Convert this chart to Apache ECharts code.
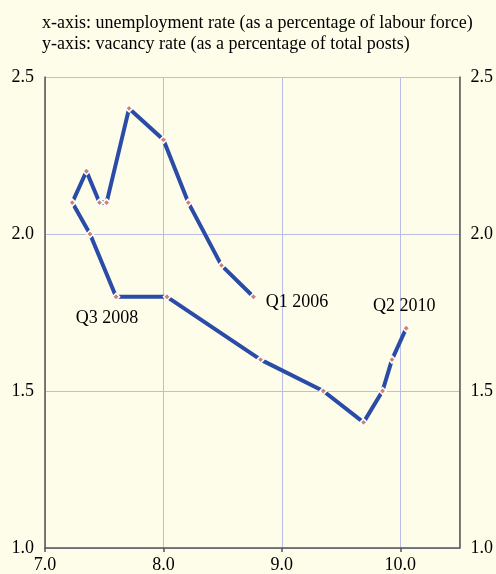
<!DOCTYPE html>
<html>
<head>
<meta charset="utf-8">
<script src="https://cdn.jsdelivr.net/npm/echarts@6/dist/echarts.min.js"></script>
<style>
  html, body { margin: 0; padding: 0; background: #fefde9; }
  #main { width: 496px; height: 574px; }
</style>
</head>
<body>
<div id="main"></div>
<script>
// quarterly points, Q1 2006 .. Q2 2010
var unemployment = [8.76, 8.49, 8.21, 8.0, 7.71, 7.52, 7.46, 7.35, 7.23, 7.38, 7.60, 8.03, 8.82, 9.35, 9.69, 9.85, 9.93, 10.05];
var vacancy = [1.8, 1.9, 2.1, 2.3, 2.4, 2.1, 2.1, 2.2, 2.1, 2.0, 1.8, 1.8, 1.6, 1.5, 1.4, 1.5, 1.6, 1.7];
var pointLabels = { 0: 'Q1 2006', 10: 'Q3 2008', 17: 'Q2 2010' };
var headerLines = [
  'x-axis: unemployment rate (as a percentage of labour force)',
  'y-axis: vacancy rate (as a percentage of total posts)'
];
var xTicks = [7, 8, 9, 10];

var myChart = echarts.init(document.getElementById('main'));
var serif = '"Liberation Serif", "Times New Roman", serif';

var labelStyle = {
  0: { position: 'right', distance: 8, offset: [0, 5] },
  10: { position: 'bottom', distance: 8, offset: [-9, 0] },
  17: { position: 'top', distance: 9, offset: [-2, 0] }
};

var data = unemployment.map(function (x, i) {
  var d = { value: [x, vacancy[i]] };
  if (pointLabels[i]) {
    d.label = Object.assign({
      show: true,
      formatter: pointLabels[i],
      color: '#000',
      fontFamily: serif,
      fontSize: 18
    }, labelStyle[i]);
  }
  return d;
});

var yAxisBase = {
  type: 'value',
  min: 1.0,
  max: 2.5,
  interval: 0.5,
  axisLine: { show: true, lineStyle: { color: '#555', width: 1.5 } },
  axisTick: { show: false },
  axisLabel: {
    color: '#000', fontFamily: serif, fontSize: 18, margin: 11,
    formatter: function (v) { return v.toFixed(1); }
  }
};

var option = {
  backgroundColor: '#fefde9',
  animation: false,
  graphic: headerLines.map(function (t, i) {
    return {
      type: 'text',
      left: 42,
      top: 14 + i * 21,
      style: { text: t, fill: '#000', font: '18px ' + serif }
    };
  }),
  grid: { left: 45, right: 33, top: 77, bottom: 25, containLabel: false },
  xAxis: {
    type: 'value',
    min: 7,
    max: 10.5,
    interval: 1,
    axisLine: { show: true, lineStyle: { color: '#555', width: 1.5 } },
    axisTick: { show: true, length: 4, lineStyle: { color: '#555', width: 1.5 } },
    axisLabel: {
      color: '#000', fontFamily: serif, fontSize: 18, margin: 8, showMaxLabel: false,
      formatter: function (v) { return xTicks.indexOf(v) >= 0 ? v.toFixed(1) : ''; }
    },
    splitLine: { show: true, lineStyle: { color: '#b9bde8', width: 1 } }
  },
  yAxis: [
    Object.assign({}, yAxisBase, {
      position: 'left',
      splitLine: { show: true, lineStyle: { color: '#b9bde8', width: 1 } }
    }),
    Object.assign({}, yAxisBase, {
      position: 'right',
      splitLine: { show: false }
    })
  ],
  series: [
    {
      type: 'line',
      data: data,
      yAxisIndex: 0,
      symbol: 'diamond',
      symbolSize: 7,
      itemStyle: { color: '#d0806e', borderColor: '#ffffff', borderWidth: 1.5 },
      lineStyle: { color: '#2a4ca8', width: 4 },
      z: 3
    }
  ]
};

myChart.setOption(option);
</script>
</body>
</html>
